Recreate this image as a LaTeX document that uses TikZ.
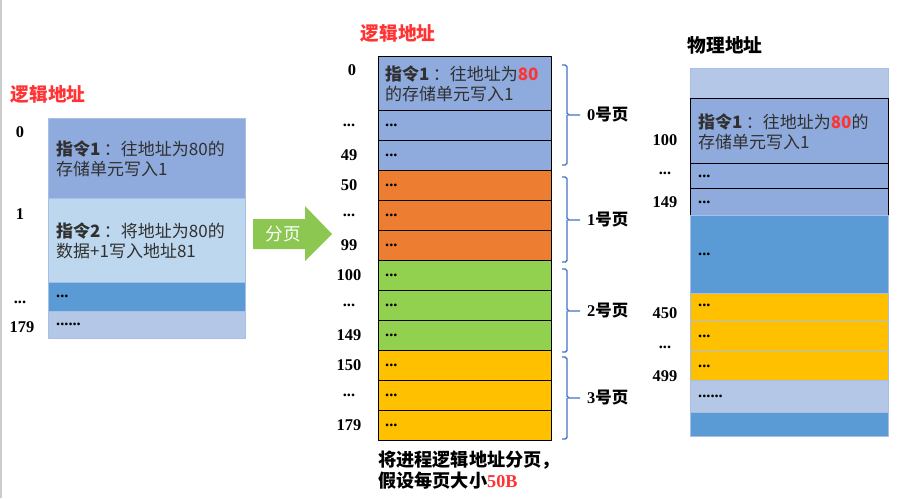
\documentclass[tikz,border=0pt]{standalone}
\usepackage{fontspec}
\setmainfont{Liberation Serif}
\newfontfamily\cjk{Noto Sans CJK SC}
\usetikzlibrary{positioning}
\definecolor{pblue}{HTML}{8FAADC}
\definecolor{plight}{HTML}{BDD7EE}
\definecolor{pmid}{HTML}{5B9BD5}
\definecolor{ppale}{HTML}{B4C7E7}
\definecolor{porange}{HTML}{ED7D31}
\definecolor{pgreen}{HTML}{92D050}
\definecolor{pyellow}{HTML}{FFC000}
\definecolor{pbrace}{HTML}{4472C4}
\definecolor{pred}{HTML}{FF3333}
\definecolor{parrow}{HTML}{8CC751}
\definecolor{ptext}{HTML}{303030}
\newcommand{\ellip}{.{}.{}.}
\newcommand{\fcolon}{\hspace{0.2em}：}
\tikzset{
  addr/.style={font=\bfseries\fontsize{14pt}{16pt}\selectfont, inner sep=0pt},
  cell/.style={font=\bfseries\fontsize{14pt}{16pt}\selectfont, anchor=west, inner sep=0pt},
  instr/.style={font=\cjk\fontsize{14.5pt}{17pt}\selectfont, text=ptext, align=left, anchor=west, inner sep=0pt},
  title/.style={font=\cjk\bfseries\fontsize{16pt}{18pt}\selectfont, inner sep=0pt},
  pagelabel/.style={font=\bfseries\fontsize{14pt}{16pt}\selectfont, anchor=west, inner sep=0pt},
  pagebrace/.style={draw=pbrace, line width=1.2pt, rounded corners=1.5pt},
  softrow/.style={draw=ppale!70!pblue, line width=0.6pt},
  hardrow/.style={draw=black, line width=0.6pt},
}
\begin{document}
\begin{tikzpicture}[x=0.03cm, y=-0.03cm, line join=round]
  \useasboundingbox (0,0) rectangle (899,498);
  \draw[gray!40, line width=1.2pt] (1,0) -- (1,498);
  % logical address of the process
  \node[title, text=pred] (lt) at (48,94) {逻辑地址};
  \foreach \a/\b/\c in {118/198/pblue, 198/282/plight, 282/311/pmid, 311/338/ppale}
    \fill[\c, softrow] (48,\a) rectangle (245,\b);
  \node[instr] (li1) at (56,159) {\textbf{指令1}\fcolon 往地址为80的\\存储单元写入1};
  \node[instr] (li2) at (56,241) {\textbf{指令2}\fcolon 将地址为80的\\数据+1写入地址81};
  \node[cell] (ld3) at (56,296) {\ellip};
  \node[cell] (ld4) at (56,324) {\ellip\ellip};
  \node[addr] (la0) at (20,132) {0};
  \node[addr] (la1) at (20,214) {1};
  \node[addr] (la2) at (20,302) {\ellip};
  \node[addr] (la3) at (22,327) {179};
  % paging arrow
  \fill[parrow] (253,219) -- (305,219) -- (305,206) -- (332,234) -- (305,261)
    -- (305,249) -- (253,249) -- cycle;
  \node[font=\cjk\fontsize{15pt}{17pt}\selectfont, text=white, inner sep=0pt] (split) at (283,234) {分页};
  % logical address split into pages
  \node[title, text=pred] (mt) at (398,33) {逻辑地址};
  \fill[pblue, hardrow] (378,56) rectangle (551,110);
  \node[instr] (mi) at (385,84) {\textbf{指令1}\fcolon 往地址为\textcolor{pred}{\textbf{80}}\\的存储单元写入1};
  \node[addr] (ma) at (352,70) {0};
  \foreach \i/\c/\l in {0/pblue/\ellip, 1/pblue/49, 2/porange/50, 3/porange/\ellip, 4/porange/99,
      5/pgreen/100, 6/pgreen/\ellip, 7/pgreen/149, 8/pyellow/150, 9/pyellow/\ellip, 10/pyellow/179} {
    \fill[\c, hardrow] (378,110+30*\i) rectangle (551,140+30*\i);
    \node[cell] (m\i) at (385,125+30*\i) {\ellip};
    \node[addr] (ma\i) at (349,125+30*\i) {\l};
  }
  \foreach \a/\m/\b/\n in {65/115/165/0, 177/220/262/1, 269/311/352/2, 357/398/439/3} {
    \draw[pagebrace] (562,\a) -| (567,\m) -- (580,\m) (567,\m) |- (562,\b);
    \node[pagelabel] (p\n) at (587,\m) {\n{\cjk 号页}};
  }
  \node[font=\cjk\bfseries\fontsize{15.5pt}{18pt}\selectfont, align=left, anchor=west, inner sep=0pt] (note)
    at (378,470) {将进程逻辑地址分页，\\假设每页大小\textcolor{pred}{\rmfamily\bfseries 50B}};
  % physical memory
  \node[title] (rt) at (725,45) {物理地址};
  \fill[ppale, softrow] (690,68) rectangle (888,98);
  \foreach \a/\b in {98/163, 163/188, 188/215}
    \fill[pblue, hardrow] (690,\a) rectangle (888,\b);
  \fill[pmid, softrow] (690,215) rectangle (888,293);
  \foreach \a/\b in {293/320, 320/350, 350/380}
    \fill[pyellow, softrow] (690,\a) rectangle (888,\b);
  \fill[ppale, softrow] (690,380) rectangle (888,412);
  \fill[pmid, softrow] (690,412) rectangle (888,436);
  \node[instr] (ri) at (698,132) {\textbf{指令1}\fcolon 往地址为\textcolor{pred}{\textbf{80}}的\\存储单元写入1};
  \foreach \y/\d [count=\k] in {176/\ellip, 202/\ellip, 254/\ellip, 305/\ellip, 336/\ellip, 366/\ellip, 396/\ellip\ellip}
    \node[cell] (r\k) at (698,\y) {\d};
  \foreach \y/\l [count=\k] in {140/100, 173/\ellip, 202/149, 313/450, 347/\ellip, 376/499}
    \node[addr] (ra\k) at (665,\y) {\l};
\end{tikzpicture}
\end{document}
